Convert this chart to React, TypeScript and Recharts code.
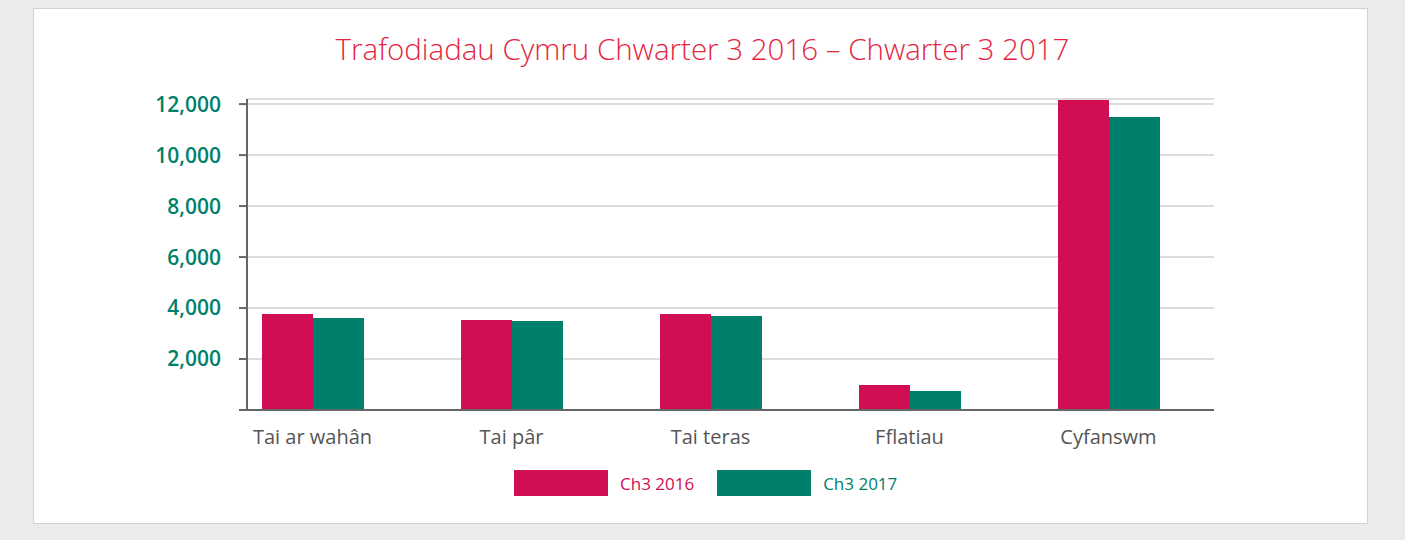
import { BarChart, Bar, XAxis, YAxis, CartesianGrid } from 'recharts'

const categories = ['Tai ar wahân', 'Tai pâr', 'Tai teras', 'Fflatiau', 'Cyfanswm']
const ch3_2016 = [3770, 3530, 3770, 980, 12160]
const ch3_2017 = [3610, 3490, 3690, 750, 11490]
const yTicks = [0, 2000, 4000, 6000, 8000, 10000, 12000]
const seriesNames = ['Ch3 2016', 'Ch3 2017']
const title = 'Trafodiadau Cymru Chwarter 3 2016 – Chwarter 3 2017'

const RED = '#d10d53'
const GREEN = '#00806a'
const FONT = '"Open Sans", "Noto Sans", sans-serif'

export default function App() {
  // rows for recharts
  const data = categories.map((name, i) => ({
    name,
    a: ch3_2016[i],
    b: ch3_2017[i],
  }))

  const series = [
    { key: 'a', name: seriesNames[0], color: RED },
    { key: 'b', name: seriesNames[1], color: GREEN },
  ]

  return (
    <div
      style={{
        position: 'fixed',
        left: 0,
        top: 0,
        width: 1405,
        height: 540,
        background: '#ebebed',
        fontFamily: FONT,
      }}
    >
      <div
        style={{
          position: 'absolute',
          left: 33,
          top: 8,
          width: 1333,
          height: 514,
          background: '#fff',
          border: '1px solid #d2d2d4',
        }}
      />
      <div
        style={{
          position: 'absolute',
          left: 0,
          width: 1405,
          top: 29,
          textAlign: 'center',
          fontSize: 29.5,
          fontWeight: 300,
          color: '#e5243f',
          lineHeight: '40px',
        }}
      >
        {title}
      </div>
      <div style={{ position: 'absolute', left: 0, top: 0 }}>
        <BarChart
          width={1405}
          height={540}
          data={data}
          margin={{ top: 99, right: 191, bottom: 90, left: 0 }}
          barGap={0}
          barSize={51}
        >
          <CartesianGrid vertical={false} stroke="#dcdcdc" strokeWidth={2} />
          <XAxis
            dataKey="name"
            height={40}
            padding={{ left: -34, right: 6 }}
            tickLine={false}
            tickSize={0}
            tickMargin={20}
            axisLine={{ stroke: '#666', strokeWidth: 2 }}
            tick={{ fill: '#555', fontSize: 20, fontFamily: FONT }}
            interval={0}
          />
          <YAxis
            width={247}
            domain={[0, 12200]}
            ticks={yTicks}
            interval={0}
            tickSize={8}
            tickMargin={18}
            tickLine={{ stroke: '#666', strokeWidth: 2 }}
            axisLine={{ stroke: '#666', strokeWidth: 2 }}
            tickFormatter={(v: number) => (v === 0 ? '' : v.toLocaleString('en-US'))}
            tick={{ fill: GREEN, fontSize: 21, fontWeight: 600, fontFamily: FONT }}
          />
          {series.map((s) => (
            <Bar
              key={s.key}
              dataKey={s.key}
              name={s.name}
              fill={s.color}
              isAnimationActive={false}
            />
          ))}
        </BarChart>
      </div>
      <div
        style={{
          position: 'absolute',
          left: 514,
          top: 470,
          display: 'flex',
          alignItems: 'center',
          height: 26,
        }}
      >
        {series.map((s, i) => (
          <div
            key={s.key}
            style={{ display: 'flex', alignItems: 'center', marginLeft: i === 0 ? 0 : 23 }}
          >
            <div style={{ width: 94, height: 26, background: s.color }} />
            <span style={{ marginLeft: 12, fontSize: 17, color: s.color }}>{s.name}</span>
          </div>
        ))}
      </div>
    </div>
  )
}
